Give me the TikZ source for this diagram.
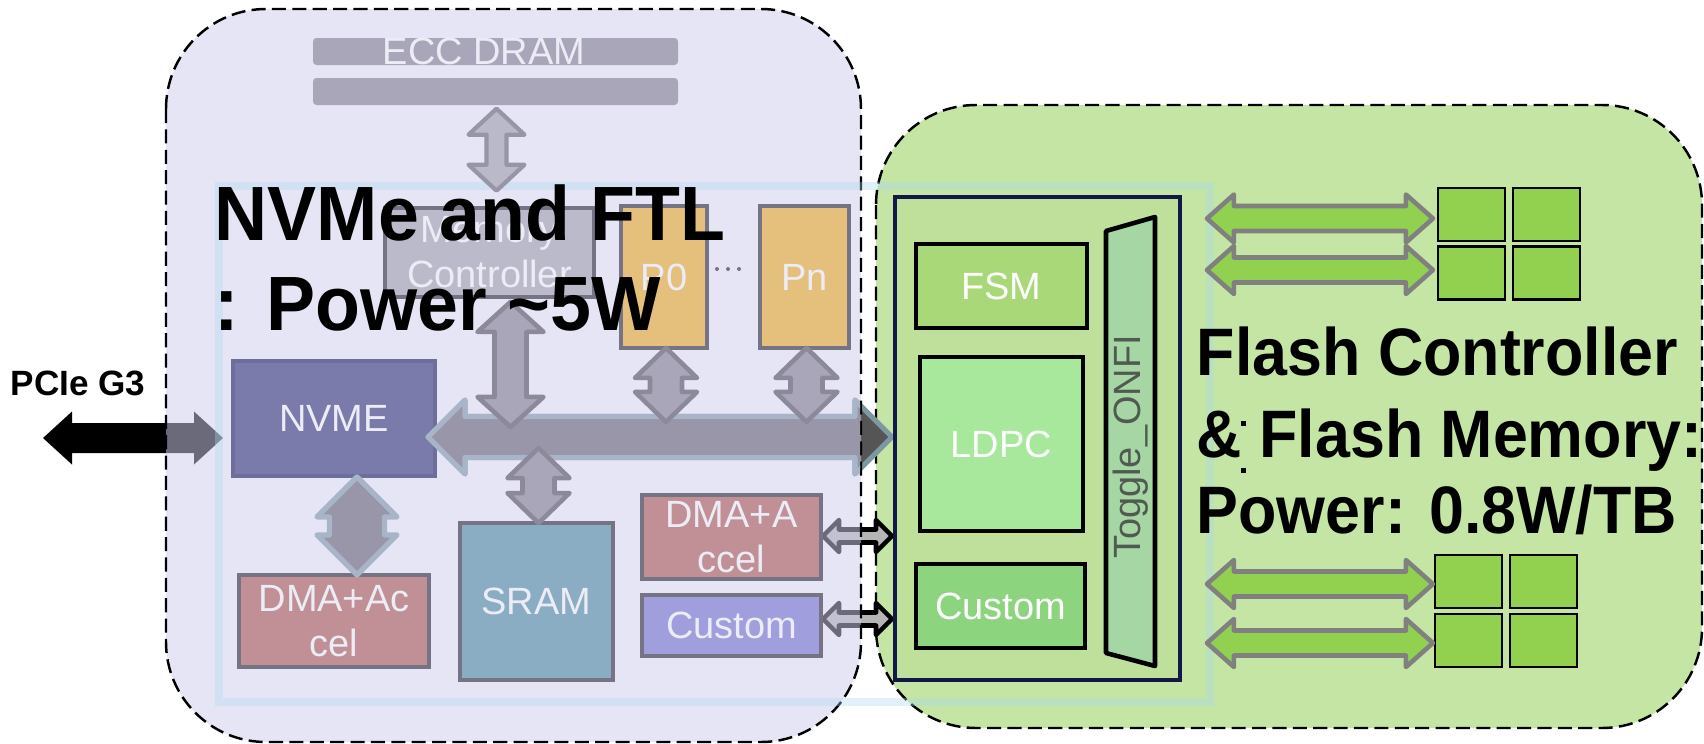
\documentclass[tikz,border=0pt]{standalone}
\usepackage{fontspec}
\usepackage{graphicx}
\setmainfont{Liberation Sans}
\usetikzlibrary{calc}

\definecolor{regionL}{RGB}{207,205,236}
\definecolor{regionR}{RGB}{197,229,165}
\definecolor{ctrlfill}{RGB}{190,224,155}
\definecolor{navy}{RGB}{20,24,72}
\definecolor{dramgray}{RGB}{168,166,184}
\definecolor{memfill}{RGB}{187,186,203}
\definecolor{boxline}{RGB}{118,116,132}
\definecolor{pfill}{RGB}{229,192,124}
\definecolor{nvmefill}{RGB}{123,123,171}
\definecolor{nvmeline}{RGB}{110,110,155}
\definecolor{dmafill}{RGB}{192,144,150}
\definecolor{sramfill}{RGB}{138,173,196}
\definecolor{custfill}{RGB}{160,158,220}
\definecolor{fsmfill}{RGB}{168,216,120}
\definecolor{ldpcfill}{RGB}{168,232,156}
\definecolor{custgfill}{RGB}{140,212,126}
\definecolor{togfill}{RGB}{166,214,164}
\definecolor{togtext}{RGB}{80,90,80}
\definecolor{flashgreen}{RGB}{146,208,80}
\definecolor{arrfill}{RGB}{168,166,184}
\definecolor{arrline}{RGB}{140,138,154}
\definecolor{dramarrfill}{RGB}{186,185,202}
\definecolor{dramarrline}{RGB}{152,150,166}
\definecolor{busdark}{RGB}{85,85,85}
\definecolor{busteal}{RGB}{125,152,160}
\definecolor{busfill}{RGB}{152,150,168}
\definecolor{busline}{RGB}{168,180,200}
\definecolor{linkfill}{RGB}{181,181,181}
\definecolor{txtlight}{RGB}{236,236,246}
\definecolor{glow}{RGB}{170,215,240}

\newcommand{\boxfont}{\fontsize{10.8pt}{12.8pt}\selectfont}
\newcommand{\bigfont}{\fontsize{21.9pt}{26pt}\selectfont\bfseries}
\newcommand{\midfont}{\fontsize{19.1pt}{22pt}\selectfont\bfseries}

\tikzset{
    pics/dblarr/.style args={#1,#2,#3,#4}{
        code={
            \path[pic actions] (0,0) -- (#4,#3/2) -- (#4,#2/2) -- (#1-#4,#2/2) -- (#1-#4,#3/2)
                -- (#1,0) -- (#1-#4,-#3/2) -- (#1-#4,-#2/2) -- (#4,-#2/2) -- (#4,-#3/2) -- cycle;%length,shaft,head,head length
        }
    },
    pics/dblarr/.default={100,20,40,20},
}

\begin{document}
\begin{tikzpicture}[x=0.1mm, y=-0.1mm,
zone/.style={draw=black, line width=0.7pt, dash pattern=on 4pt off 1.8pt, rounded corners=10mm},
glowline/.style={draw=glow, line width=2.2pt, opacity=0.35},
lbox/.style={draw=boxline, line width=1.1pt, inner sep=0pt, text=txtlight, font=\boxfont, align=center},
gbox/.style={draw=black, line width=1.3pt, inner sep=0pt, text=white, font=\boxfont, align=center},
flashsq/.style={draw=black, fill=flashgreen, line width=0.6pt, minimum width=6.7mm, minimum height=5.3mm, inner sep=0pt},
grayarr/.style={fill=arrfill, draw=arrline, line width=1.3pt, line join=round},
dramarr/.style={fill=dramarrfill, draw=dramarrline, line width=1.2pt, line join=round},
busarr/.style={fill=busfill, draw=busline, line width=1.5pt, line join=round},
darkarr/.style={fill=busdark, draw=busteal, line width=1.5pt, line join=round},
linkarr/.style={fill=linkfill, draw=black, line width=1.3pt, line join=round},
grnarr/.style={fill=flashgreen, draw=gray, line width=1.3pt, line join=round},
]
\useasboundingbox (0,0) rectangle (1704,744);

% flash side
\draw[zone, fill=regionR] (876,105) rectangle (1702,728);

% links crossing the border, the lilac zone lies over them
\coordinate (pcieL) at (43,438);
\coordinate (busL) at (428,437);
\coordinate (lnk1) at (823,536);
\coordinate (lnk2) at (823,619);
\pic[fill=black] at (pcieL) {dblarr={180,30,53,29}};
\pic[linkarr] at (lnk1) {dblarr={69,13,32,16}};
\pic[linkarr] at (lnk2) {dblarr={69,13,32,16}};
\pic[darkarr] at (busL) {dblarr={464,41,74,37}};

% nvme side
\draw[zone, fill=regionL, fill opacity=0.52] (166,9) rectangle (861,742);
\draw[glowline] (219,186) rectangle (1210,702);

\node[fill=dramgray, inner sep=0pt, minimum width=36.5mm, minimum height=2.7mm, rounded corners=1pt] (dram1) at (495.5,51.5) {};
\node[fill=dramgray, inner sep=0pt, minimum width=36.5mm, minimum height=2.7mm, rounded corners=1pt] (dram2) at (495.5,91.5) {};
\node[text=txtlight, font=\boxfont, anchor=base, inner sep=0pt] (dramtxt) at (484,64) {ECC DRAM};

\node[lbox, fill=memfill, minimum width=20.9mm, minimum height=8.9mm] (memctl) at (489.5,252.5) {Memory\\Controller};
\node[lbox, fill=pfill, minimum width=8.6mm, minimum height=14.2mm] (p0) at (664,277) {P0};
\node[lbox, fill=pfill, minimum width=8.9mm, minimum height=14.2mm] (pn) at (804.5,277) {Pn};
\node[lbox, draw=nvmeline, fill=nvmefill, minimum width=20.2mm, minimum height=11.5mm] (nvme) at (334,418.5) {NVME};
\node[lbox, fill=dmafill, minimum width=19mm, minimum height=9.2mm] (dma1) at (334,621) {DMA+Ac\\cel};
\node[lbox, fill=sramfill, minimum width=15.3mm, minimum height=15.7mm] (sram) at (536.5,601.5) {SRAM};
\node[lbox, fill=dmafill, minimum width=17.9mm, minimum height=8.4mm] (dma2) at (731.5,537) {DMA+A\\ccel};
\node[lbox, fill=custfill, minimum width=17.9mm, minimum height=6.1mm] (cust1) at (731.5,625.5) {Custom};
\foreach \x in {717,728,739} \fill[boxline] (\x,269) circle[radius=0.2mm];

\begin{scope}
\clip (0,0) rectangle (860,744);
\pic[busarr] at (busL) {dblarr={464,41,74,37}};
\end{scope}

\pic[dramarr, rotate=-90] at ($(dram2.south)+(1,3)$) {dblarr={82,20,56,26}};
\pic[grayarr, rotate=-90] at ($(memctl.south)+(21,3)$) {dblarr={125,32,66,30}};
\pic[grayarr, rotate=-90] at ($(p0.south)+(2,-2)$) {dblarr={74,32,62,30}};
\pic[grayarr, rotate=-90] at ($(pn.south)+(2,-2)$) {dblarr={74,32,62,30}};
\pic[grayarr, rotate=-90] at ($(sram.north)+(2,-73)$) {dblarr={75,32,62,30}};
\pic[busarr, rotate=-90] at ($(nvme.south)+(23,-1)$) {dblarr={98,55,80,40}};

% flash controller
\node[draw=navy, line width=1.1pt, fill=ctrlfill, inner sep=0pt, minimum width=28.5mm, minimum height=48.3mm] (ctrl) at (1037.5,438.5) {};
\node[gbox, fill=fsmfill, minimum width=17.1mm, minimum height=8.4mm] (fsm) at (1001.5,286) {FSM};
\node[gbox, fill=ldpcfill, minimum width=16.3mm, minimum height=17.4mm] (ldpc) at (1001.5,444) {LDPC};
\node[gbox, fill=custgfill, minimum width=16.9mm, minimum height=8.4mm] (cust2) at (1000.5,606) {Custom};
\draw[fill=togfill, line width=1.3pt, line join=round] (1106,231) -- (1155,217) -- (1155,666) -- (1106,653) -- cycle;
\node[rotate=90, text=togtext, font=\boxfont, inner sep=0pt] (toggle) at (1131,447) {Toggle\_ONFI};

% flash chips
\foreach \r/\yy in {1/214.5,2/273} \foreach \c/\xx in {1/1471.5,2/1546.5} \node[flashsq] (ta\r\c) at (\xx,\yy) {};
\foreach \r/\yy in {1/581.5,2/640.5} \foreach \c/\xx in {1/1468.5,2/1543.5} \node[flashsq] (tb\r\c) at (\xx,\yy) {};
\pic[grnarr] at ($(ta11.west)+(-230,4)$) {dblarr={226,25,48,27}};
\pic[grnarr] at ($(ta21.west)+(-230,-3)$) {dblarr={226,25,48,27}};
\pic[grnarr] at ($(tb11.west)+(-227,2.5)$) {dblarr={226,25,48,27}};
\pic[grnarr] at ($(tb21.west)+(-227,2.5)$) {dblarr={226,25,48,27}};

% titles
\node[anchor=base west, inner sep=0pt, font=\bfseries\fontsize{10pt}{12pt}\selectfont] (pcie) at (10,395) {PCIe G3};
\node[anchor=base west, inner sep=0pt, font=\bigfont] (ttl1) at (214,240) {\scalebox{0.955}[1]{NVMe and FTL}};
\node[anchor=base west, inner sep=0pt, font=\bigfont] (ttl2) at (214,330) {\scalebox{0.955}[1]{: Power \textasciitilde5W}};
\node[anchor=base west, inner sep=0pt, font=\midfont] (fc1) at (1196,375) {\scalebox{0.935}[1]{Flash Controller}};
\node[anchor=base west, inner sep=0pt, font=\midfont] (fc2) at (1196,457) {\scalebox{0.935}[1]{\& Flash Memory:}};
\node[anchor=base west, inner sep=0pt, font=\midfont] (fc3) at (1196,533) {\scalebox{0.935}[1]{Power: 0.8W/TB}};
\fill (1241,421) rectangle +(5,5);
\fill (1241,468) rectangle +(5,5);

\end{tikzpicture}
\end{document}
